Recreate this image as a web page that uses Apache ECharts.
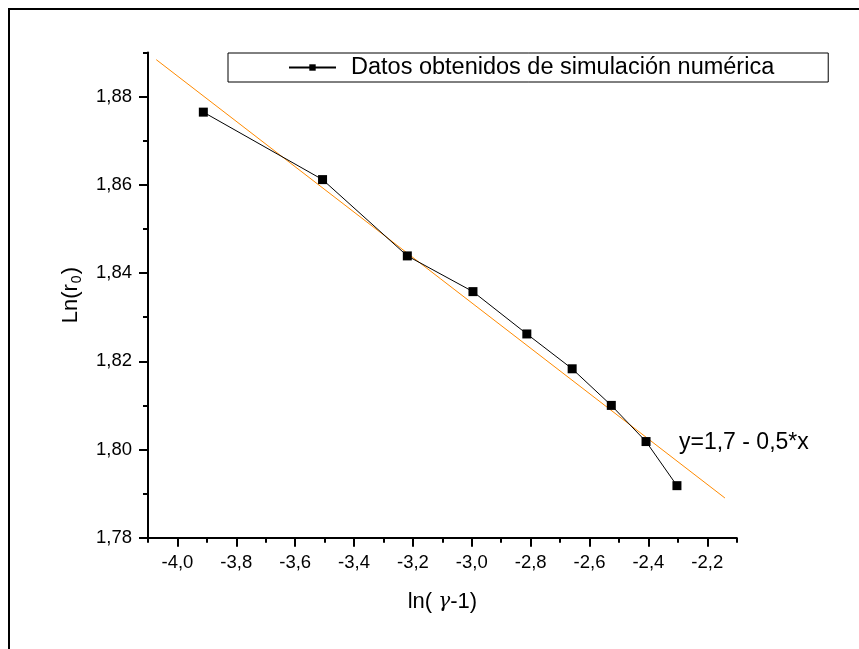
<!DOCTYPE html>
<html>
<head>
<meta charset="utf-8">
<title>Ln(r0) vs ln(gamma-1)</title>
<script src="https://cdn.jsdelivr.net/npm/echarts@6/dist/echarts.min.js"></script>
<style>
html,body{margin:0;padding:0;background:#fff;}
#main{width:859px;height:649px;}
</style>
</head>
<body>
<div id="main"></div>
<script>
//datos de simulacion
var lnGamma = [-3.912, -3.507, -3.219, -2.996, -2.813, -2.659, -2.526, -2.408, -2.303];
var lnR0 = [1.8765, 1.8612, 1.8439, 1.8358, 1.8262, 1.8183, 1.8100, 1.8018, 1.7918];

//recta de ajuste (extremos)
var fitX = [-4.072, -2.140];
var fitY = [1.8884, 1.7890];

//marcas de los ejes
var xMajor = [-4.0, -3.8, -3.6, -3.4, -3.2, -3.0, -2.8, -2.6, -2.4, -2.2];
var xMinor = [-4.1, -3.9, -3.7, -3.5, -3.3, -3.1, -2.9, -2.7, -2.5, -2.3, -2.1];
var yMajor = [1.78, 1.80, 1.82, 1.84, 1.86, 1.88];
var yMinor = [1.79, 1.81, 1.83, 1.85, 1.87, 1.89];

var seriesName = 'Datos obtenidos de simulación numérica';
var fitLabel = 'y=1,7 - 0,5*x';

var font = '"Liberation Sans", Arial, sans-serif';

var datos = [];
for (var i = 0; i < lnGamma.length; i++) {
    datos.push([lnGamma[i], lnR0[i]]);
}
var ajuste = [];
for (var j = 0; j < fitX.length; j++) {
    ajuste.push([fitX[j], fitY[j]]);
}

function coma(v, d) {
    return v.toFixed(d).replace('.', ',');
}

var myChart = echarts.init(document.getElementById('main'));

myChart.setOption({
    animation: false,
    backgroundColor: '#fff',
    textStyle: { fontFamily: font, color: '#000' },
    grid: { left: 148, right: 122.3, top: 52.6, bottom: 111.3, containLabel: false },
    legend: {
        data: [seriesName],
        left: 228,
        top: 53,
        borderColor: '#000',
        borderWidth: 1,
        borderRadius: 0,
        padding: [2, 54, 2, 60],
        itemWidth: 47,
        itemHeight: 8,
        textStyle: {
            fontFamily: font,
            fontSize: 23.5,
            lineHeight: 25,
            color: '#000',
            padding: [0, 0, 0, 10]
        }
    },
    xAxis: [ {
        type: 'value',
        min: -4.1,
        max: -2.1,
        position: 'bottom',
        name: '{a|ln( }{g|γ}{a|-1)}',
        nameLocation: 'middle',
        nameGap: 53,
        nameTextStyle: {
            rich: {
                a: { fontFamily: font, fontSize: 22, color: '#000' },
                g: { fontFamily: '"DejaVu Serif", serif', fontStyle: 'italic', fontSize: 20, color: '#000' }
            }
        },
        axisLine: { show: true, onZero: false, lineStyle: { color: '#000', width: 2 } },
        axisTick: { show: true, customValues: xMajor, length: 9, lineStyle: { color: '#000', width: 2 } },
        axisLabel: {
            customValues: xMajor,
            margin: 16,
            fontFamily: font,
            fontSize: 18.5,
            color: '#000',
            formatter: function (v) { return coma(v, 1); }
        },
        splitLine: { show: false }
    }, {
        type: 'value',
        min: -4.1,
        max: -2.1,
        position: 'bottom',
        offset: 0,
        axisLine: { show: false },
        axisTick: { show: true, customValues: xMinor, length: 5, lineStyle: { color: '#000', width: 2 } },
        axisLabel: { show: false },
        splitLine: { show: false }
    } ],
    yAxis: [ {
        type: 'value',
        min: 1.78,
        max: 1.89,
        position: 'left',
        name: '{a|Ln(r}{s|0}{a|)}',
        nameLocation: 'middle',
        nameGap: 64,
        nameTextStyle: {
            rich: {
                a: { fontFamily: font, fontSize: 22, color: '#000', lineHeight: 26 },
                s: { fontFamily: font, fontSize: 14, color: '#000', lineHeight: 26, padding: [12, 1, 0, 1] }
            }
        },
        axisLine: { show: true, onZero: false, lineStyle: { color: '#000', width: 2 } },
        axisTick: { show: true, customValues: yMajor, length: 9, lineStyle: { color: '#000', width: 2 } },
        axisLabel: {
            customValues: yMajor,
            margin: 16,
            fontFamily: font,
            fontSize: 18.5,
            color: '#000',
            formatter: function (v) { return coma(v, 2); }
        },
        splitLine: { show: false }
    }, {
        type: 'value',
        min: 1.78,
        max: 1.89,
        position: 'left',
        offset: 0,
        axisLine: { show: false },
        axisTick: { show: true, customValues: yMinor, length: 5, lineStyle: { color: '#000', width: 2 } },
        axisLabel: { show: false },
        splitLine: { show: false }
    } ],
    series: [ {
        name: seriesName,
        type: 'line',
        data: datos,
        symbol: 'rect',
        symbolSize: 9,
        itemStyle: { color: '#000' },
        lineStyle: { color: '#000', width: 1 },
        z: 3
    }, {
        name: 'ajuste',
        type: 'line',
        data: ajuste,
        symbol: 'none',
        silent: true,
        lineStyle: { color: '#ff8a00', width: 1 },
        z: 2
    } ],
    graphic: [ {
        //marco exterior
        type: 'rect',
        shape: { x: 9, y: 9, width: 1000, height: 1000 },
        style: { fill: 'none', stroke: '#000', lineWidth: 2 },
        silent: true
    }, {
        type: 'text',
        left: 679,
        top: 431,
        style: { text: fitLabel, font: '23px ' + font, fill: '#000' }
    } ]
});
</script>
</body>
</html>
